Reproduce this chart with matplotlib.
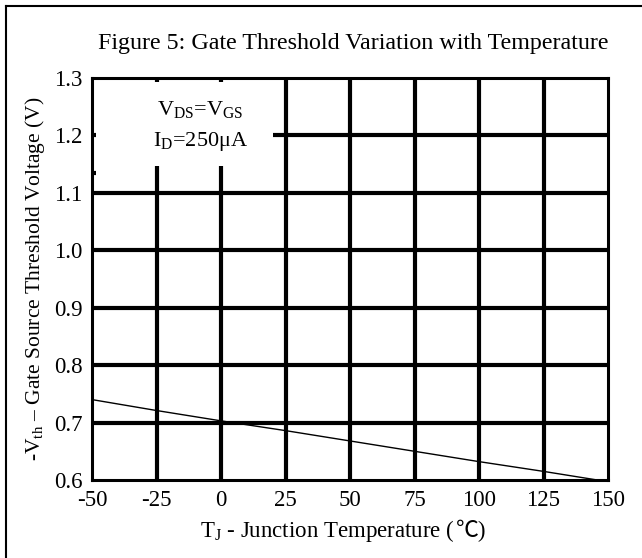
import matplotlib.pyplot as plt
from matplotlib.lines import Line2D
from matplotlib.offsetbox import TextArea, HPacker, AnnotationBbox

plt.rcParams['font.family'] = ['Liberation Serif', 'Noto Sans CJK SC', 'DejaVu Sans']
plt.rcParams['mathtext.fontset'] = 'custom'
plt.rcParams['mathtext.rm'] = 'Liberation Serif'
plt.rcParams['mathtext.it'] = 'Liberation Serif'

# data
temps = [-50, -25, 0, 25, 50, 75, 100, 125, 150]
vth = [0.740, 0.721, 0.703, 0.686, 0.668, 0.650, 0.632, 0.615, 0.597]

xticks = [-50, -25, 0, 25, 50, 75, 100, 125, 150]
yticks = [0.6, 0.7, 0.8, 0.9, 1.0, 1.1, 1.2, 1.3]

fig = plt.figure(figsize=(6.42, 5.58), dpi=100)
ax = fig.add_axes([92/642, 78/558, (608-92)/642, (480-78)/558])
ax.set_xlim(-50, 150)
ax.set_ylim(0.6, 1.3)

# grid, drawn by hand because some lines stop short near the legend box
gw = 3.0
for t in xticks[1:-1]:
    top = 1.147 if t in (-25, 0) else 1.3
    ax.vlines(t, 0.6, top, color='black', lw=gw, zorder=1)
for v in yticks[1:-1]:
    left = 20 if v == 1.2 else -50
    ax.hlines(v, left, 150, color='black', lw=gw, zorder=1)
# small stubs left on the frame inside the legend box
for t in (-25, 0):
    ax.vlines(t, 1.293, 1.3, color='black', lw=gw, zorder=1)
for v in (1.2, 1.135):
    ax.hlines(v, -50, -48.5, color='black', lw=gw, zorder=1)

ax.plot(temps, vth, color='black', lw=1.0, zorder=3)

for s in ax.spines.values():
    s.set_linewidth(2.2)
ax.set_xticks(xticks)
ax.set_xticklabels([str(t) for t in xticks])
ax.set_yticks(yticks)
ax.set_yticklabels(['%.1f' % v for v in yticks])
ax.tick_params(length=0, labelsize=16.5, pad=7)

ax.text(-8, 1.245, r'V$_{\mathrm{DS}}$=V$_{\mathrm{GS}}$', ha='center', va='center', fontsize=16)
ax.text(-8, 1.19, r'I$_{\mathrm{D}}$=250$\mathrm{\mu}$A', ha='center', va='center', fontsize=16)

# x label: mathtext part + plain part so the ℃ glyph can fall back to a CJK font
part1 = TextArea(r'T$_{\mathrm{J}}$ - Junction Temperature (',
                 textprops=dict(fontsize=16.5, family='Liberation Serif'))
part2 = TextArea('℃)', textprops=dict(fontsize=16.5, family=['Liberation Serif', 'Noto Sans CJK SC']))
xlab = HPacker(children=[part1, part2], align='baseline', pad=0, sep=1)
ab = AnnotationBbox(xlab, (343/642, 1 - 531/558), xycoords='figure fraction',
                    frameon=False, box_alignment=(0.5, 0.5))
fig.add_artist(ab)

ax.set_ylabel(r'-V$_{\mathrm{th}}$ – Gate Source Threshold Voltage (V)', fontsize=15.5, labelpad=5)
fig.text(353/642, 1 - 44/558, 'Figure 5: Gate Threshold Variation with Temperature',
         ha='center', va='center', fontsize=17.3)

# outer frame (left and top edges only visible)
fig.add_artist(Line2D([6/642, 6/642], [0, 1 - 6/558], color='black', lw=1.5, transform=fig.transFigure))
fig.add_artist(Line2D([6/642, 1], [1 - 6/558, 1 - 6/558], color='black', lw=1.5, transform=fig.transFigure))

fig.savefig('out.png', dpi=100)
